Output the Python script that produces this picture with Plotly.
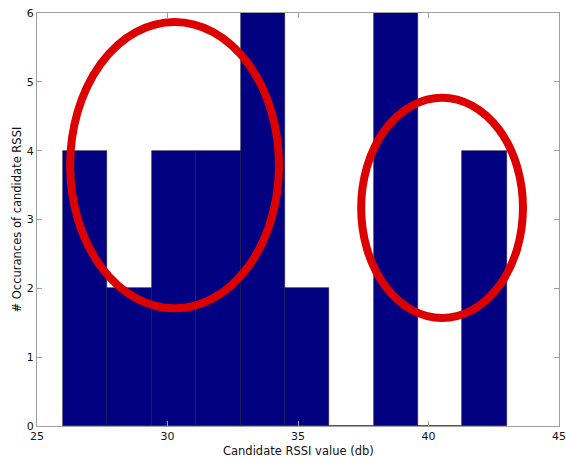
import plotly.graph_objects as go

bin_edges = [26.0, 27.7, 29.4, 31.1, 32.8, 34.5, 36.2, 37.9, 39.6, 41.3, 43.0]
counts = [4, 2, 4, 4, 6, 2, 0, 6, 0, 4]
x_ticks = [25, 30, 35, 40, 45]
y_ticks = [0, 1, 2, 3, 4, 5, 6]
x_title = "Candidate RSSI value (db)"
y_title = "# Occurances of candidate RSSI"

centers = [(a + b) / 2 for a, b in zip(bin_edges[:-1], bin_edges[1:])]
widths = [b - a for a, b in zip(bin_edges[:-1], bin_edges[1:])]

fig = go.Figure()
fig.add_trace(go.Bar(
    x=centers, y=counts, width=widths,
    marker=dict(color="#000080", line=dict(color="#1a1a40", width=0.6)),
    showlegend=False, hoverinfo="skip",
))

red = "#dd0000"
fig.add_shape(type="circle", xref="x", yref="y",
              x0=26.27, x1=34.27, y0=1.71, y1=5.87,
              line=dict(color=red, width=8))
fig.add_shape(type="circle", xref="x", yref="y",
              x0=37.42, x1=43.62, y0=1.57, y1=4.77,
              line=dict(color=red, width=8))

axis_common = dict(
    showgrid=False, zeroline=False, showline=True, linecolor="#a0a0a0",
    linewidth=1, mirror="ticks", ticks="inside", ticklen=5, tickcolor="#a0a0a0",
    tickfont=dict(family="DejaVu Sans", size=11, color="#111111"),
    automargin=False,
)

W, H = 566, 457
ml, mr, mt, mb = 37, 7, 13, 31
pw, ph = W - ml - mr, H - mt - mb

fig.update_layout(
    width=W, height=H,
    margin=dict(l=ml, r=mr, t=mt, b=mb),
    plot_bgcolor="white", paper_bgcolor="white",
    bargap=0,
    font=dict(family="DejaVu Sans", size=11, color="#111111"),
    xaxis=dict(range=[25, 45], tickvals=x_ticks, **axis_common),
    yaxis=dict(range=[0, 6], tickvals=y_ticks, **axis_common),
)

fig.add_annotation(text=x_title, xref="paper", yref="paper",
                   x=0.5, y=-(450.5 - (H - mb)) / ph, xanchor="center", yanchor="middle",
                   showarrow=False, font=dict(size=11.5))
fig.add_annotation(text=y_title, xref="paper", yref="paper",
                   x=(16 - ml) / pw, y=0.5, xanchor="center", yanchor="middle",
                   textangle=-90, showarrow=False, font=dict(size=11.5))

fig.write_html("out.html", config={"displayModeBar": False},
               post_script="document.body.style.margin='0';")
